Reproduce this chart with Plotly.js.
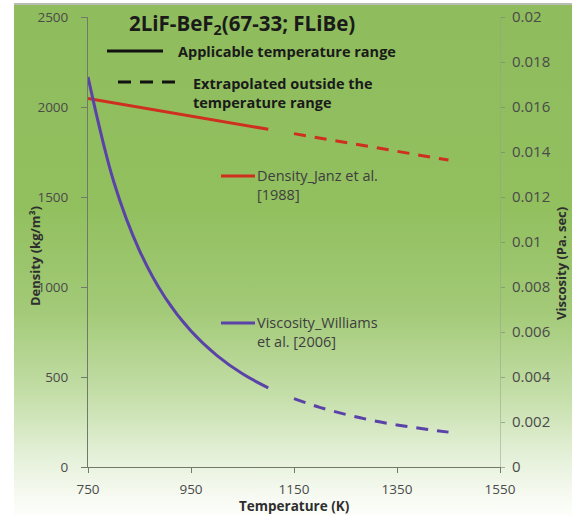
<!DOCTYPE html>
<html>
<head>
<meta charset="utf-8">
<script src="https://cdn.plot.ly/plotly-3.0.1.min.js"></script>
<style>
  html, body { margin:0; padding:0; background:#ffffff; }
  #wrap { position:relative; width:572px; height:515px; overflow:hidden; }
  #bg { position:absolute; left:14px; top:3px; width:558px; height:512px;
        border-top:2px solid #b9beb4;
        background: linear-gradient(to bottom, #8fbc5d 0%, #92c05f 40%, #a3ca78 60%, #c4dea8 76%, #e4f0d8 88%, #f7faf2 96%, #fdfefb 100%); }
  #chart { position:absolute; left:0; top:0; width:572px; height:515px; }
</style>
</head>
<body>
<div id="wrap">
  <div id="bg"></div>
  <div id="chart"></div>
</div>
<script>
// ---- Data ----
// Density (Janz et al. 1988), kg/m3
const densTempFit = [750, 850, 950, 1050, 1100];
const densFit     = [2047, 1998, 1949, 1901, 1876];
const densTempExt = [1150, 1250, 1350, 1450];
const densExt     = [1852, 1803, 1754, 1705];

// Viscosity (Williams et al. 2006), Pa.s
const viscTempFit = [750, 800, 850, 900, 950, 1000, 1050, 1100];
const viscFit     = [0.01733, 0.01268, 0.00962, 0.00752, 0.00604, 0.00496, 0.00414, 0.00352];
const viscTempExt = [1150, 1200, 1250, 1300, 1350, 1400, 1450];
const viscExt     = [0.00304, 0.00265, 0.00234, 0.00208, 0.00187, 0.00170, 0.00155];

// Axis ticks
const xTicks  = [750, 950, 1150, 1350, 1550];
const yTicks  = [0, 500, 1000, 1500, 2000, 2500];
const y2Ticks = [0, 0.002, 0.004, 0.006, 0.008, 0.01, 0.012, 0.014, 0.016, 0.018, 0.02];

// ---- Styling / layout ----
const W = 572, H = 515;
const M = {l: 88, r: 72, t: 17, b: 48};
const pw = W - M.l - M.r, ph = H - M.t - M.b;
const px = x => (x - M.l) / pw;
const py = y => (H - M.b - y) / ph;

const RED = '#cf2f1f', PURPLE = '#5a42a8';
const FONT = '"Open Sans", Lato, sans-serif';
const DASH = '12px,9px';

const traces = [
  {x: densTempFit, y: densFit, mode: 'lines', line: {color: RED, width: 3}, yaxis: 'y', hoverinfo: 'skip'},
  {x: densTempExt, y: densExt, mode: 'lines', line: {color: RED, width: 3, dash: DASH}, yaxis: 'y', hoverinfo: 'skip'},
  {x: viscTempFit, y: viscFit, mode: 'lines', line: {color: PURPLE, width: 3, shape: 'spline'}, yaxis: 'y2', hoverinfo: 'skip'},
  {x: viscTempExt, y: viscExt, mode: 'lines', line: {color: PURPLE, width: 3, dash: DASH, shape: 'spline'}, yaxis: 'y2', hoverinfo: 'skip'}
];

const tickFont = {family: FONT, size: 13.5, color: '#4a4a4a'};
const titleFont = {family: FONT, size: 13.5, color: '#2e2e2e'};

const layout = {
  width: W, height: H,
  margin: M,
  paper_bgcolor: 'rgba(0,0,0,0)',
  plot_bgcolor: 'rgba(0,0,0,0)',
  showlegend: false,
  font: {family: FONT},
  xaxis: {
    range: [750, 1550], tickvals: xTicks, ticktext: xTicks.map(String),
    showgrid: false, zeroline: false, showline: true, linecolor: '#6f7a68', linewidth: 1,
    ticks: 'outside', ticklen: 5, tickcolor: '#6f7a68', ticklabelstandoff: 5,
    tickfont: tickFont
  },
  yaxis: {
    range: [0, 2500], tickvals: yTicks, ticktext: yTicks.map(String),
    showgrid: false, zeroline: false, showline: true, linecolor: '#6f7a68', linewidth: 1,
    ticks: 'outside', ticklen: 6, tickcolor: '#6f7a68', ticklabelstandoff: 10,
    tickfont: tickFont
  },
  yaxis2: {
    overlaying: 'y', side: 'right', range: [0, 0.02],
    tickvals: y2Ticks, ticktext: y2Ticks.map(String),
    showgrid: false, zeroline: false, showline: true, linecolor: 'rgba(150,160,140,0.5)', linewidth: 1,
    ticks: 'outside', ticklen: 4, tickcolor: 'rgba(120,130,110,0.6)', ticklabelstandoff: 4,
    tickfont: {family: FONT, size: 15, color: '#4a4a4a'}
  },
  shapes: [
    {type: 'line', xref: 'paper', yref: 'paper', x0: px(107), x1: px(163), y0: py(51), y1: py(51),
     line: {color: '#111', width: 3}},
    {type: 'line', xref: 'paper', yref: 'paper', x0: px(118), x1: px(175), y0: py(82), y1: py(82),
     line: {color: '#111', width: 3, dash: '13px,9px'}},
    {type: 'line', xref: 'paper', yref: 'paper', x0: px(221), x1: px(255), y0: py(176), y1: py(176),
     line: {color: RED, width: 3}},
    {type: 'line', xref: 'paper', yref: 'paper', x0: px(221), x1: px(255), y0: py(323), y1: py(323),
     line: {color: PURPLE, width: 3}}
  ],
  annotations: [
    {text: '<b>2LiF-BeF<sub>2</sub>(67-33; FLiBe)</b>', xref: 'paper', yref: 'paper',
     x: px(127), y: py(24), xanchor: 'left', yanchor: 'middle', showarrow: false,
     font: {family: FONT, size: 20.5, color: '#1a1a1a'}},
    {text: '<b>Applicable temperature range</b>', xref: 'paper', yref: 'paper',
     x: px(176), y: py(51), xanchor: 'left', yanchor: 'middle', showarrow: false,
     font: {family: FONT, size: 14.5, color: '#1a1a1a'}},
    {text: '<b>Extrapolated outside the<br>temperature range</b>', xref: 'paper', yref: 'paper',
     x: px(191), y: py(93), xanchor: 'left', yanchor: 'middle', align: 'left', showarrow: false,
     font: {family: FONT, size: 14.5, color: '#1a1a1a'}},
    {text: 'Density_Janz et al.<br>[1988]', xref: 'paper', yref: 'paper',
     x: px(255), y: py(185), xanchor: 'left', yanchor: 'middle', align: 'left', showarrow: false,
     font: {family: FONT, size: 14.5, color: '#3e3e3e'}},
    {text: 'Viscosity_Williams<br>et al. [2006]', xref: 'paper', yref: 'paper',
     x: px(255), y: py(332), xanchor: 'left', yanchor: 'middle', align: 'left', showarrow: false,
     font: {family: FONT, size: 14.5, color: '#3e3e3e'}},
    {text: '<b>Temperature (K)</b>', xref: 'paper', yref: 'paper',
     x: px(294), y: py(506), xanchor: 'center', yanchor: 'middle', showarrow: false, font: titleFont},
    {text: '<b>Density (kg/m³)</b>', xref: 'paper', yref: 'paper', textangle: -90,
     x: px(35), y: py(256), xanchor: 'center', yanchor: 'middle', showarrow: false,
     font: {family: FONT, size: 13, color: '#2e2e2e'}},
    {text: '<b>Viscosity (Pa. sec)</b>', xref: 'paper', yref: 'paper', textangle: -90,
     x: px(561), y: py(264), xanchor: 'center', yanchor: 'middle', showarrow: false,
     font: {family: FONT, size: 13, color: '#2e2e2e'}}
  ]
};

Plotly.newPlot('chart', traces, layout, {staticPlot: true, displayModeBar: false});
</script>
</body>
</html>
